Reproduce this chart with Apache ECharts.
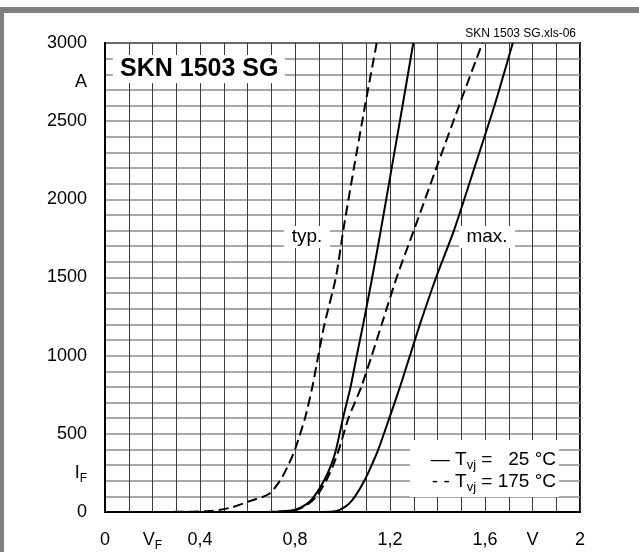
<!DOCTYPE html>
<html>
<head>
<meta charset="utf-8">
<script src="https://cdn.jsdelivr.net/npm/echarts@6/dist/echarts.min.js"></script>
<style>
html,body{margin:0;padding:0;background:#fff;}
#c{width:639px;height:552px;}
</style>
</head>
<body>
<div id="c"></div>
<script>
// ---- data ----
const currentA = [0, 1, 6, 28, 70, 115, 200, 300, 400, 600, 800, 1000, 1200, 1500, 1800, 2200, 2600, 3000];
const vTyp175 = [0.10, 0.30, 0.44, 0.53, 0.61, 0.69, 0.737, 0.772, 0.80, 0.842, 0.873, 0.898, 0.924, 0.972, 1.003, 1.048, 1.095, 1.144];

const currentB = [0, 0, 2, 15, 50, 100, 200, 300, 400, 600, 800, 1000, 1200, 1500, 1800, 2200, 2600, 3000];
const vTyp25 = [0.10, 0.60, 0.72, 0.80, 0.849, 0.881, 0.922, 0.952, 0.973, 1.002, 1.034, 1.060, 1.087, 1.125, 1.161, 1.207, 1.253, 1.298];
const vMax175 = [0.10, 0.60, 0.72, 0.807, 0.855, 0.891, 0.931, 0.961, 0.985, 1.025, 1.079, 1.123, 1.165, 1.228, 1.300, 1.395, 1.491, 1.589];

const currentC = [0, 0, 0.5, 3, 15, 50, 100, 200, 300, 400, 600, 800, 1000, 1200, 1500, 1800, 2200, 2600, 3000];
const vMax25 = [0.10, 0.80, 0.90, 0.96, 0.99, 1.025, 1.053, 1.092, 1.123, 1.151, 1.197, 1.242, 1.284, 1.326, 1.394, 1.469, 1.555, 1.640, 1.717];

const xTickLabels = ['0', 'V_F', '0,4', '', '0,8', '', '1,2', '', '1,6', 'V', '2'];
const yTickLabels = ['0', 'I_F', '500', '', '1000', '', '1500', '', '2000', '', '2500', 'A', '3000'];

const titleText = 'SKN 1503 SG';
const fileText = 'SKN 1503 SG.xls-06';
const typText = 'typ.';
const maxText = 'max.';

// ---- helpers ----
function pairs(xs, ys) { return xs.map((x, i) => [x, ys[i]]); }
function sub(label) {
  const p = label.split('_');
  return p.length === 2 ? '{m|' + p[0] + '}{s|' + p[1] + '}' : '{m|' + label + '}';
}
const FONT = 'Liberation Sans, Arial, sans-serif';
const richSub = {
  m: { fontSize: 18, fontFamily: FONT, color: '#000', lineHeight: 24 },
  s: { fontSize: 12, fontFamily: FONT, color: '#000', lineHeight: 24, verticalAlign: 'bottom' }
};

const chart = echarts.init(document.getElementById('c'), null, { renderer: 'canvas' });

const lineBase = { type: 'line', showSymbol: false, symbol: 'none', smooth: 0.25, z: 3, xAxisIndex: 0, yAxisIndex: 0 };

chart.setOption({
  backgroundColor: '#fff',
  animation: false,
  textStyle: { fontFamily: FONT },
  grid: { left: 105, top: 43, width: 475, height: 475, show: true, borderColor: '#000', borderWidth: 2, backgroundColor: '#fff' },
  xAxis: [
    { type: 'value', min: 0, max: 2, interval: 0.1, position: 'bottom',
      axisLine: { show: true, lineStyle: { color: '#000', width: 2 } }, axisTick: { show: false }, axisLabel: { show: false },
      splitLine: { show: true, lineStyle: { color: '#3a3a3a', width: 1 } } },
    { type: 'value', min: 0, max: 2, interval: 0.2, position: 'bottom', offset: 0,
      axisLine: { show: false }, axisTick: { show: false }, splitLine: { show: false },
      axisLabel: { show: true, margin: 16, color: '#000', fontSize: 18, rich: richSub,
        formatter: v => sub(xTickLabels[Math.round(v / 0.2)] || '') } }
  ],
  yAxis: [
    { type: 'value', min: 0, max: 3000, interval: 100, position: 'left',
      axisLine: { show: true, lineStyle: { color: '#000', width: 2 } }, axisTick: { show: false }, axisLabel: { show: false },
      splitLine: { show: true, lineStyle: { color: '#8c8c8c', width: 1.5 } } },
    { type: 'value', min: 0, max: 3000, interval: 250, position: 'left', offset: 0,
      axisLine: { show: false }, axisTick: { show: false }, splitLine: { show: false },
      axisLabel: { show: true, margin: 18, color: '#000', fontSize: 18, rich: richSub,
        formatter: v => sub(yTickLabels[Math.round(v / 250)] || '') } }
  ],
  series: [
    Object.assign({}, lineBase, { name: 'typ 175', data: pairs(vTyp175, currentA), lineStyle: { color: '#000', width: 2, type: [10, 5] } }),
    Object.assign({}, lineBase, { name: 'typ 25', data: pairs(vTyp25, currentB), lineStyle: { color: '#000', width: 2, type: 'solid' } }),
    Object.assign({}, lineBase, { name: 'max 175', data: pairs(vMax175, currentB), lineStyle: { color: '#000', width: 2, type: [10, 5] } }),
    Object.assign({}, lineBase, { name: 'max 25', data: pairs(vMax25, currentC), lineStyle: { color: '#000', width: 2, type: 'solid' } })
  ],
  graphic: [
    // frame
    { type: 'rect', z: 10, silent: true, shape: { x: 0, y: 7, width: 639, height: 6 }, style: { fill: '#808080' } },
    { type: 'rect', z: 10, silent: true, shape: { x: 0, y: 7, width: 4, height: 545 }, style: { fill: '#808080' } },
    // file name
    { type: 'text', z: 10, silent: true, style: { x: 576, y: 34, text: fileText, align: 'right', verticalAlign: 'middle', fontSize: 12, fontFamily: FONT, fill: '#000' } },
    // title box
    { type: 'rect', z: 10, silent: true, shape: { x: 113, y: 55, width: 172, height: 28 }, style: { fill: '#fff' } },
    { type: 'text', z: 11, silent: true, style: { x: 120, y: 69, text: titleText, align: 'left', verticalAlign: 'middle', fontSize: 25, fontWeight: 'bold', fontFamily: FONT, fill: '#000' } },
    // typ. / max.
    { type: 'rect', z: 10, silent: true, shape: { x: 284, y: 226, width: 46, height: 22 }, style: { fill: '#fff' } },
    { type: 'text', z: 11, silent: true, style: { x: 307, y: 237, text: typText, align: 'center', verticalAlign: 'middle', fontSize: 19, fontFamily: FONT, fill: '#000' } },
    { type: 'rect', z: 10, silent: true, shape: { x: 459, y: 226, width: 56, height: 22 }, style: { fill: '#fff' } },
    { type: 'text', z: 11, silent: true, style: { x: 487, y: 237, text: maxText, align: 'center', verticalAlign: 'middle', fontSize: 19, fontFamily: FONT, fill: '#000' } },
    // legend
    { type: 'rect', z: 10, silent: true, shape: { x: 410, y: 440, width: 149, height: 57 }, style: { fill: '#fff' } },
    { type: 'text', z: 11, silent: true, style: { x: 556, y: 460, align: 'right', verticalAlign: 'middle',
        text: '{a|\u2014 T}{s|vj}{a| =   25 \u00B0C}',
        rich: { a: { fontSize: 19, fontFamily: FONT, fill: '#000', lineHeight: 24 }, s: { fontSize: 13, fontFamily: FONT, fill: '#000', lineHeight: 24, verticalAlign: 'bottom' } } } },
    { type: 'text', z: 11, silent: true, style: { x: 556, y: 482, align: 'right', verticalAlign: 'middle',
        text: '{a|- - T}{s|vj}{a| = 175 \u00B0C}',
        rich: { a: { fontSize: 19, fontFamily: FONT, fill: '#000', lineHeight: 24 }, s: { fontSize: 13, fontFamily: FONT, fill: '#000', lineHeight: 24, verticalAlign: 'bottom' } } } }
  ]
});
</script>
</body>
</html>
